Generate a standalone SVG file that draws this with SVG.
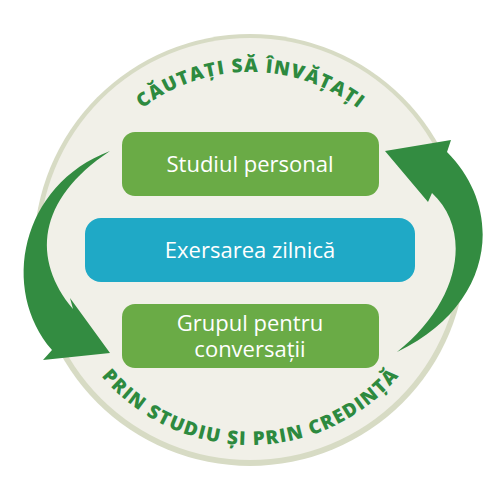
<svg xmlns="http://www.w3.org/2000/svg" width="500" height="500" viewBox="0 0 500 500">
<style>
.box{fill:#6aab46}
.blue{fill:#1fa9c6}
.lbl{font-family:"Open Sans","Noto Sans",sans-serif;font-size:22px;fill:#ffffff;text-anchor:middle}
.arc{font-family:"Open Sans","Noto Sans",sans-serif;font-size:19px;font-weight:800;fill:#2d8a3f}
.arrow{fill:#338c41}
</style>
<defs>
<path id="topArc" d="M 72,250 A 178 178 0 0 1 428,250"/>
<path id="botArc" d="M 55,250 A 195 195 0 0 0 445,250"/>
</defs>
<g id="background">
<circle cx="250" cy="250" r="216" fill="#d7dbc4"/>
<circle cx="250" cy="249" r="211" fill="#f1f0e8"/>
</g>
<g id="titles">
<text class="arc"><textPath href="#topArc" startOffset="50%" text-anchor="middle" textLength="232" lengthAdjust="spacing">CĂUTAȚI SĂ ÎNVĂȚAȚI</textPath></text>
<text class="arc"><textPath href="#botArc" startOffset="50%" text-anchor="middle" textLength="338" lengthAdjust="spacing">PRIN STUDIU ȘI PRIN CREDINȚĂ</textPath></text>
</g>
<g id="connectors">
<path class="arrow" d="M 110,151 C 20,185 0,290 52,350 L 43,360 L 110,353 L 70,298 L 73,309 C 32,260 36,200 110,151 Z"/>
<path class="arrow" d="M 397,352 C 495,305 505,210 447,152 L 451,140 L 385,151 L 428,202 L 432,193 C 472,230 462,300 397,352 Z"/>
</g>
<g id="node-studiul">
<rect class="box" x="122" y="132" width="257" height="64" rx="13"/>
<text class="lbl" x="250" y="172">Studiul personal</text>
</g>
<g id="node-exersarea">
<rect class="blue" x="85" y="218" width="330" height="64" rx="16"/>
<text class="lbl" x="250" y="258">Exersarea zilnică</text>
</g>
<g id="node-grupul">
<rect class="box" x="122" y="304" width="257" height="64" rx="13"/>
<text class="lbl" x="250" y="331">Grupul pentru</text>
<text class="lbl" x="250" y="357">conversații</text>
</g>
</svg>
